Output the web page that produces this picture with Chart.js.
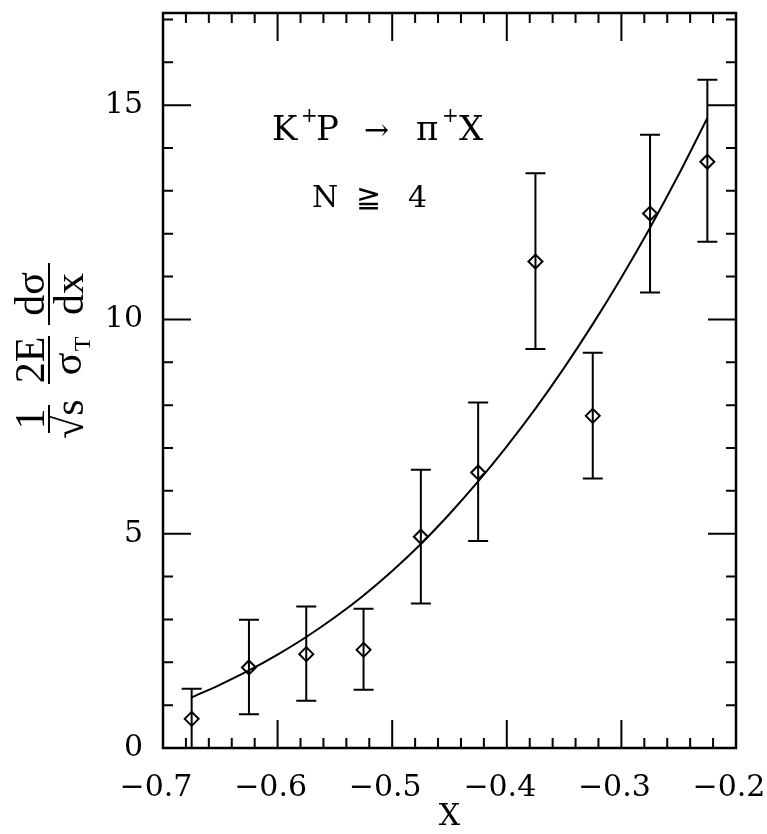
<!DOCTYPE html>
<html>
<head>
<meta charset="utf-8">
<script src="https://cdn.jsdelivr.net/npm/chart.js@4.4.1/dist/chart.umd.min.js"></script>
<style>
  html, body { margin: 0; padding: 0; background: #fff; }
  #wrap { width: 767px; height: 834px; }
</style>
</head>
<body>
<div id="wrap"><canvas id="chart"></canvas></div>
<script>
// measured points (bin centres) with error bars
const xCenters = [-0.675, -0.625, -0.575, -0.525, -0.475, -0.425, -0.375, -0.325, -0.275, -0.225];
const yValues  = [0.68, 1.88, 2.19, 2.29, 4.93, 6.43, 11.35, 7.75, 12.47, 13.68];
const yErrHigh = [1.38, 2.99, 3.30, 3.25, 6.49, 8.06, 13.41, 9.22, 14.31, 15.59];
const yErrLow  = [0.00, 0.79, 1.10, 1.36, 3.37, 4.83, 9.31, 6.29, 10.63, 11.81];

// fitted curve
const fitX = [-0.675, -0.65, -0.625, -0.6, -0.575, -0.55, -0.525, -0.5, -0.475, -0.45,
              -0.425, -0.4, -0.375, -0.35, -0.325, -0.3, -0.275, -0.25, -0.225];
const fitY = [1.18, 1.48, 1.81, 2.18, 2.59, 3.05, 3.56, 4.13, 4.76, 5.46,
              6.22, 7.04, 7.92, 8.87, 9.89, 10.98, 12.14, 13.38, 14.70];

const xTickLabels = [-0.7, -0.6, -0.5, -0.4, -0.3, -0.2];
const yTickLabels = [0, 5, 10, 15];

const SERIF = '"DejaVu Serif", "Liberation Serif", serif';

// inward ticks on all four sides plus the frame
const framePlugin = {
  id: 'frame',
  afterDraw(chart) {
    const { ctx, chartArea: a, scales: { x, y } } = chart;
    ctx.save();
    ctx.strokeStyle = '#000';
    ctx.lineWidth = 2;
    ctx.beginPath();
    for (let i = 0; i <= 25; i++) {
      const v = -0.7 + i * 0.02;
      const px = x.getPixelForValue(v);
      const len = (i % 5 === 0) ? 28 : 10;
      ctx.moveTo(px, a.bottom); ctx.lineTo(px, a.bottom - len);
      ctx.moveTo(px, a.top); ctx.lineTo(px, a.top + len);
    }
    for (let v = 1; v <= 17; v++) {
      const py = y.getPixelForValue(v);
      const len = (v % 5 === 0) ? 28 : 10;
      ctx.moveTo(a.left, py); ctx.lineTo(a.left + len, py);
      ctx.moveTo(a.right, py); ctx.lineTo(a.right - len, py);
    }
    ctx.stroke();
    ctx.lineWidth = 2.5;
    ctx.strokeRect(a.left, a.top, a.right - a.left, a.bottom - a.top);
    ctx.restore();
  }
};

// vertical error bars with caps
const errorBarPlugin = {
  id: 'errorBars',
  beforeDatasetsDraw(chart) {
    const { ctx, scales: { x, y } } = chart;
    ctx.save();
    ctx.strokeStyle = '#000';
    ctx.lineWidth = 2;
    ctx.beginPath();
    xCenters.forEach((xv, i) => {
      const px = x.getPixelForValue(xv);
      const top = y.getPixelForValue(yErrHigh[i]);
      const bot = y.getPixelForValue(yErrLow[i]);
      ctx.moveTo(px, top); ctx.lineTo(px, bot);
      ctx.moveTo(px - 10, top); ctx.lineTo(px + 10, top);
      if (yErrLow[i] > 0) { ctx.moveTo(px - 10, bot); ctx.lineTo(px + 10, bot); }
    });
    ctx.stroke();
    ctx.restore();
  }
};

// reaction label, multiplicity cut and the y-axis fraction title
const textPlugin = {
  id: 'texts',
  afterDraw(chart) {
    const ctx = chart.ctx;
    ctx.save();
    ctx.fillStyle = '#000';
    ctx.textBaseline = 'alphabetic';
    ctx.textAlign = 'left';
    const put = (s, px, py, size) => { ctx.font = size + 'px ' + SERIF; ctx.fillText(s, px, py); };
    put('K', 272, 140, 34);
    put('+', 301, 122, 20);
    put('P', 316, 140, 34);
    put('\u2192', 364, 140, 30);
    put('\u03C0', 416, 140, 34);
    put('+', 442, 122, 20);
    put('X', 459, 140, 34);
    put('N', 312, 207, 30);
    put('\u2267', 356, 207, 30);
    put('4', 408, 207, 30);

    // rotated fraction title
    ctx.translate(49, 0);
    ctx.rotate(-Math.PI / 2);
    ctx.textAlign = 'center';
    const frac = (num, den, u, w) => {
      ctx.font = '42px "Liberation Serif", serif';
      ctx.fillText(num, u, -5);
      ctx.fillText(den, u, 34);
      ctx.fillRect(u - w / 2, -1, w, 2);
    };
    frac('1', '\u221As', -419, 28);
    frac('2E', '', -360, 48);
    ctx.font = '42px "Liberation Serif", serif';
    ctx.fillText('\u03C3', -364, 32);
    ctx.font = '24px "Liberation Serif", serif';
    ctx.fillText('T', -344, 41);
    frac('d\u03C3', 'dx', -294, 62);
    ctx.restore();
  }
};

new Chart(document.getElementById('chart'), {
  type: 'scatter',
  data: {
    datasets: [
      {
        type: 'line',
        data: fitX.map((v, i) => ({ x: v, y: fitY[i] })),
        borderColor: '#000',
        borderWidth: 2,
        pointRadius: 0,
        fill: false,
        cubicInterpolationMode: 'monotone'
      },
      {
        data: xCenters.map((v, i) => ({ x: v, y: yValues[i] })),
        pointStyle: 'rectRot',
        pointRadius: 7,
        borderColor: '#000',
        borderWidth: 2,
        backgroundColor: 'rgba(0,0,0,0)'
      }
    ]
  },
  options: {
    responsive: true,
    maintainAspectRatio: false,
    animation: false,
    layout: { padding: { top: 13, right: 31, left: 0, bottom: 0 } },
    plugins: { legend: { display: false }, tooltip: { enabled: false } },
    scales: {
      x: {
        type: 'linear',
        min: -0.7,
        max: -0.2,
        grid: { display: false },
        border: { display: false },
        afterBuildTicks: s => { s.ticks = xTickLabels.map(v => ({ value: v })); },
        afterFit: s => { s.height = 86; s.paddingLeft = 0; s.paddingRight = 0; },
        ticks: {
          color: '#000',
          padding: 14,
          labelOffset: -7,
          maxRotation: 0,
          font: { family: SERIF, size: 30 },
          callback: v => '\u2212' + Math.abs(v).toFixed(1)
        },
        title: {
          display: true,
          text: 'X',
          color: '#000',
          padding: { top: 0, bottom: 2 },
          font: { family: SERIF, size: 30, lineHeight: 1 }
        }
      },
      y: {
        type: 'linear',
        min: 0,
        max: 17.15,
        grid: { display: false },
        border: { display: false },
        afterBuildTicks: s => { s.ticks = yTickLabels.map(v => ({ value: v })); },
        afterFit: s => { s.width = 163; s.paddingTop = 0; s.paddingBottom = 0; },
        ticks: {
          color: '#000',
          padding: 12,
          font: { family: SERIF, size: 30 }
        }
      }
    }
  },
  plugins: [errorBarPlugin, framePlugin, textPlugin]
});
</script>
</body>
</html>
